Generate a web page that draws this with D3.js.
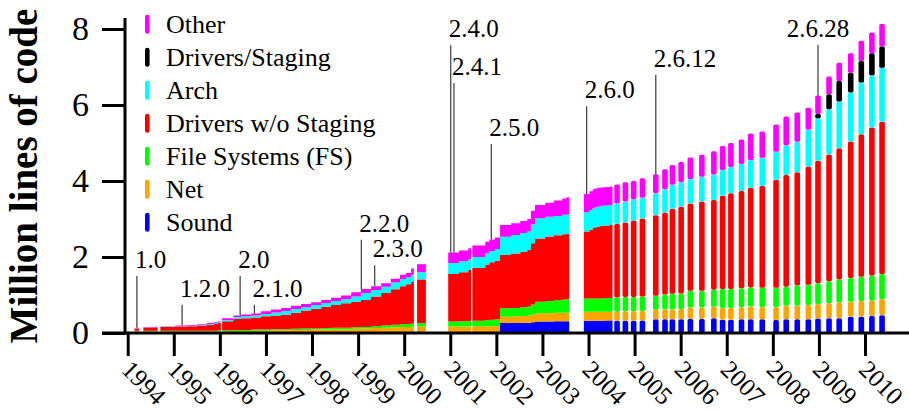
<!DOCTYPE html>
<html>
<head>
<meta charset="utf-8">
<script src="https://cdn.jsdelivr.net/npm/d3@7/dist/d3.min.js"></script>
<style>
  html, body { margin: 0; padding: 0; background: #fff; }
  svg { display: block; }
  svg text { font-family: "Liberation Serif", "Times New Roman", Times, serif; }
</style>
</head>
<body>
<svg id="chart" width="909" height="410" font-family="Liberation Serif, serif"></svg>
<script>
// ---- Linux kernel size by subsystem (million lines of code) ----
const layerKeys   = ["sound", "net", "fs", "drivers", "arch", "staging", "other"];
const layerNames  = ["Sound", "Net", "File Systems (FS)", "Drivers w/o Staging", "Arch", "Drivers/Staging", "Other"];
const layerColors = ["#0000ff", "#ffa500", "#00ff00", "#ff0000", "#00ffff", "#000000", "#ff00ff"];

// Release line each sample belongs to; consecutive samples of one line form a block.
const sampleSeries = [
  "1.0",
  "1.1", "1.1",
  "1.2/1.3", "1.2/1.3", "1.2/1.3", "1.2/1.3", "1.2/1.3", "1.2/1.3", "1.2/1.3",
  "2.0-2.3", "2.0-2.3", "2.0-2.3", "2.0-2.3", "2.0-2.3", "2.0-2.3", "2.0-2.3",
  "2.0-2.3", "2.0-2.3", "2.0-2.3", "2.0-2.3", "2.0-2.3", "2.0-2.3", "2.0-2.3",
  "2.0-2.3", "2.0-2.3", "2.0-2.3", "2.0-2.3", "2.0-2.3", "2.0-2.3", "2.0-2.3",
  "2.2.x", "2.2.x",
  "2.4 early", "2.4 early", "2.4 early",
  "2.4/2.5", "2.4/2.5", "2.4/2.5", "2.4/2.5", "2.4/2.5", "2.4/2.5", "2.4/2.5",
  "2.4/2.5", "2.4/2.5", "2.4/2.5", "2.4/2.5", "2.4/2.5", "2.4/2.5", "2.4/2.5",
  "2.6.0-7", "2.6.0-7", "2.6.0-7", "2.6.0-7", "2.6.0-7", "2.6.0-7", "2.6.0-7", "2.6.0-7",
  "2.6.8", "2.6.9", "2.6.10", "2.6.11", "2.6.12", "2.6.13", "2.6.14", "2.6.15",
  "2.6.16", "2.6.17", "2.6.18", "2.6.19", "2.6.20", "2.6.21", "2.6.22", "2.6.23",
  "2.6.24", "2.6.25", "2.6.26", "2.6.27", "2.6.28", "2.6.29", "2.6.30", "2.6.31",
  "2.6.32", "2.6.33", "2.6.34"
];
const sampleDates = [
  1994.20,
  1994.40, 1994.59,
  1994.77, 1995.03, 1995.29, 1995.50, 1995.72, 1995.87, 1995.96,
  1996.11, 1996.29, 1996.46, 1996.68, 1996.89, 1997.11, 1997.33,
  1997.54, 1997.76, 1997.98, 1998.20, 1998.41, 1998.63, 1998.85,
  1999.06, 1999.28, 1999.50, 1999.71, 1999.91, 2000.04, 2000.15,
  2000.34, 2000.41,
  2001.016, 2001.19, 2001.39,
  2001.54, 2001.76, 2001.85, 2001.97, 2002.08, 2002.32, 2002.52,
  2002.67, 2002.75, 2002.84, 2003.06, 2003.25, 2003.43, 2003.52,
  2003.96, 2004.02, 2004.09, 2004.13, 2004.19, 2004.26, 2004.36, 2004.46,
  2004.62, 2004.80, 2004.98, 2005.17, 2005.46, 2005.66, 2005.82, 2006.01,
  2006.21, 2006.46, 2006.72, 2006.91, 2007.09, 2007.32, 2007.52, 2007.77,
  2008.07, 2008.29, 2008.53, 2008.77, 2008.98, 2009.22, 2009.44, 2009.69,
  2009.92, 2010.15, 2010.37
];
const sound = [
  0,
  0, 0,
  0, 0, 0, 0, 0, 0, 0,
  0, 0, 0, 0, 0, 0, 0,
  0, 0, 0, 0, 0, 0, 0,
  0, 0, 0, 0, 0, 0, 0,
  0, 0,
  0, 0, 0,
  0, 0, 0, 0, 0.26, 0.26, 0.27,
  0.27, 0.28, 0.30, 0.30, 0.31, 0.31, 0.31,
  0.32, 0.32, 0.32, 0.32, 0.32, 0.32, 0.33, 0.33,
  0.32, 0.32, 0.32, 0.33, 0.36, 0.36, 0.36, 0.36,
  0.37, 0.37, 0.39, 0.35, 0.35, 0.36, 0.36, 0.36,
  0.34, 0.36, 0.36, 0.36, 0.38, 0.39, 0.39, 0.43,
  0.43, 0.45, 0.47
];
const net = [
  0.04,
  0.04, 0.04,
  0.04, 0.04, 0.04, 0.04, 0.04, 0.04, 0.04,
  0.04, 0.05, 0.05, 0.06, 0.06, 0.07, 0.07,
  0.08, 0.08, 0.09, 0.09, 0.10, 0.10, 0.11,
  0.12, 0.13, 0.14, 0.15, 0.16, 0.16, 0.17,
  0.17, 0.17,
  0.17, 0.17, 0.17,
  0.18, 0.18, 0.18, 0.18, 0.17, 0.18, 0.18,
  0.19, 0.20, 0.22, 0.22, 0.22, 0.22, 0.22,
  0.24, 0.24, 0.24, 0.24, 0.24, 0.24, 0.23, 0.23,
  0.24, 0.25, 0.25, 0.25, 0.25, 0.26, 0.26, 0.27,
  0.30, 0.30, 0.30, 0.31, 0.31, 0.32, 0.34, 0.32,
  0.34, 0.36, 0.36, 0.38, 0.38, 0.39, 0.41, 0.39,
  0.41, 0.40, 0.42
];
const fs = [
  0.02,
  0.02, 0.02,
  0.02, 0.02, 0.02, 0.02, 0.02, 0.02, 0.03,
  0.03, 0.03, 0.03, 0.03, 0.03, 0.03, 0.03,
  0.03, 0.04, 0.03, 0.04, 0.04, 0.04, 0.04,
  0.04, 0.05, 0.06, 0.07, 0.07, 0.08, 0.08,
  0.09, 0.09,
  0.13, 0.14, 0.14,
  0.14, 0.16, 0.17, 0.18, 0.22, 0.22, 0.23,
  0.24, 0.27, 0.30, 0.32, 0.33, 0.35, 0.36,
  0.35, 0.35, 0.35, 0.35, 0.35, 0.35, 0.36, 0.36,
  0.38, 0.38, 0.38, 0.38, 0.37, 0.39, 0.41, 0.41,
  0.44, 0.44, 0.45, 0.50, 0.50, 0.50, 0.50, 0.51,
  0.51, 0.50, 0.53, 0.53, 0.55, 0.58, 0.61, 0.63,
  0.64, 0.66, 0.66
];
const drivers = [
  0.06,
  0.08, 0.09,
  0.10, 0.11, 0.12, 0.14, 0.16, 0.18, 0.19,
  0.24, 0.29, 0.31, 0.32, 0.35, 0.36, 0.38,
  0.42, 0.47, 0.52, 0.56, 0.60, 0.64, 0.67,
  0.71, 0.78, 0.85, 0.93, 1.00, 1.04, 1.10,
  1.15, 1.15,
  1.25, 1.29, 1.35,
  1.40, 1.46, 1.51, 1.54, 1.40, 1.43, 1.46,
  1.49, 1.61, 1.67, 1.70, 1.71, 1.72, 1.72,
  1.76, 1.81, 1.85, 1.87, 1.89, 1.91, 1.91, 1.92,
  1.93, 1.96, 2.01, 2.05, 2.12, 2.16, 2.24, 2.28,
  2.30, 2.35, 2.36, 2.45, 2.52, 2.56, 2.62, 2.68,
  2.84, 2.94, 2.98, 3.11, 3.22, 3.34, 3.45, 3.59,
  3.75, 3.90, 4.01
];
const arch = [
  0.005,
  0.005, 0.005,
  0.01, 0.01, 0.01, 0.01, 0.02, 0.02, 0.02,
  0.03, 0.05, 0.05, 0.05, 0.06, 0.08, 0.10,
  0.10, 0.09, 0.10, 0.10, 0.10, 0.11, 0.14,
  0.18, 0.17, 0.17, 0.18, 0.19, 0.19, 0.18,
  0.19, 0.19,
  0.29, 0.29, 0.28,
  0.28, 0.30, 0.30, 0.31, 0.48, 0.49, 0.49,
  0.49, 0.50, 0.53, 0.52, 0.51, 0.51, 0.51,
  0.51, 0.52, 0.53, 0.53, 0.53, 0.53, 0.53, 0.53,
  0.54, 0.55, 0.56, 0.55, 0.58, 0.61, 0.63, 0.65,
  0.64, 0.65, 0.67, 0.68, 0.69, 0.71, 0.73, 0.74,
  0.74, 0.78, 0.80, 0.97, 1.12, 1.19, 1.23, 1.29,
  1.36, 1.37, 1.42
];
const staging = [
  0,
  0, 0,
  0, 0, 0, 0, 0, 0, 0,
  0, 0, 0, 0, 0, 0, 0,
  0, 0, 0, 0, 0, 0, 0,
  0, 0, 0, 0, 0, 0, 0,
  0, 0,
  0, 0, 0,
  0, 0, 0, 0, 0, 0, 0,
  0, 0, 0, 0, 0, 0, 0,
  0, 0, 0, 0, 0, 0, 0, 0,
  0, 0, 0, 0, 0, 0, 0, 0,
  0, 0, 0, 0, 0, 0, 0, 0,
  0, 0, 0, 0, 0.11, 0.39, 0.54, 0.52,
  0.57, 0.58, 0.56
];
const other = [
  0.01,
  0.01, 0.01,
  0.01, 0.02, 0.02, 0.02, 0.02, 0.02, 0.02,
  0.05, 0.04, 0.05, 0.05, 0.07, 0.08, 0.08,
  0.09, 0.08, 0.07, 0.08, 0.09, 0.10, 0.11,
  0.11, 0.10, 0.09, 0.10, 0.11, 0.11, 0.17,
  0.21, 0.21,
  0.28, 0.28, 0.29,
  0.30, 0.30, 0.30, 0.30, 0.31, 0.31, 0.32,
  0.32, 0.36, 0.35, 0.37, 0.41, 0.43, 0.45,
  0.48, 0.49, 0.49, 0.49, 0.49, 0.48, 0.48, 0.48,
  0.50, 0.51, 0.48, 0.51, 0.50, 0.53, 0.52, 0.53,
  0.57, 0.58, 0.61, 0.63, 0.63, 0.64, 0.70, 0.69,
  0.72, 0.76, 0.77, 0.58, 0.49, 0.47, 0.48, 0.51,
  0.53, 0.55, 0.59
];

// Annotated releases
const versionNames = ["1.0", "1.2.0", "2.0", "2.1.0", "2.2.0", "2.3.0", "2.4.0", "2.4.1", "2.5.0", "2.6.0", "2.6.12", "2.6.28"];
const versionDates = [1994.20, 1995.18, 1996.44, 1996.75, 1999.07, 1999.36, 2001.01, 2001.08, 2001.89, 2003.96, 2005.46, 2008.98];

const yearTicks = d3.range(1994, 2011);
const valueTicks = [0, 2, 4, 6, 8];

// ---- layout ----
const SERIF = "'Liberation Serif', 'Times New Roman', Times, serif";
const svg = d3.select("#chart");
const x = d3.scaleLinear().domain([1994, 2010]).range([127.7, 865]);
const y = d3.scaleLinear().domain([0, 8]).range([333, 29]);
const halfBar = 2.8;
// label baselines (px) for the release annotations
const labelBaseline = [268, 296.7, 268, 296.7, 231.7, 257.3, 37.3, 75, 136, 98.3, 66.7, 36.7];
const labelAnchor   = ["start", "start", "start", "start", "start", "start", "start", "start", "start", "start", "start", "middle"];

const samples = sampleDates.map((d, i) => ({
  date: d, series: sampleSeries[i],
  sound: sound[i], net: net[i], fs: fs[i], drivers: drivers[i],
  arch: arch[i], staging: staging[i], other: other[i]
}));
const stacked = d3.stack().keys(layerKeys)(samples);
samples.forEach((s, i) => { s.total = stacked[stacked.length - 1][i][1]; });

// consecutive samples of the same release line form one block
const blocks = [];
samples.forEach((s, i) => {
  if (i === 0 || s.series !== samples[i - 1].series) blocks.push([]);
  blocks[blocks.length - 1].push(i);
});

const gBars = svg.append("g");
blocks.forEach(block => {
  if (block.length === 1) {
    const i = block[0];
    const cx = x(samples[i].date);
    layerKeys.forEach((k, li) => {
      const [lo, hi] = stacked[li][i];
      if (hi - lo <= 0) return;
      gBars.append("rect")
        .attr("x", cx - halfBar).attr("width", halfBar * 2)
        .attr("y", y(hi)).attr("height", y(lo) - y(hi))
        .attr("rx", 1.6).attr("ry", 1.6)
        .attr("fill", layerColors[li]);
    });
  } else {
    layerKeys.forEach((k, li) => {
      const pts = block.map((i, j) => ({
        x: j === 0 ? x(samples[i].date) - halfBar : x(samples[i].date),
        lo: stacked[li][i][0], hi: stacked[li][i][1]
      }));
      const last = block[block.length - 1];
      pts.push({ x: x(samples[last].date) + halfBar, lo: stacked[li][last][0], hi: stacked[li][last][1] });
      if (pts.every(p => p.hi - p.lo <= 0)) return;
      const area = d3.area().curve(d3.curveStepAfter)
        .x(p => p.x).y0(p => y(p.lo)).y1(p => y(p.hi));
      gBars.append("path").attr("d", area(pts)).attr("fill", layerColors[li]);
    });
  }
});

// height of the stack drawn at a given date
function stackTopAt(date) {
  const px = x(date);
  let best = null, bestDist = Infinity;
  blocks.forEach(block => {
    block.forEach((i, j) => {
      const x0 = j === 0 ? x(samples[i].date) - halfBar : x(samples[i].date);
      const x1 = j === block.length - 1 ? x(samples[i].date) + halfBar : x(samples[block[j + 1]].date);
      const d = px < x0 ? x0 - px : (px > x1 ? px - x1 : 0);
      if (d < bestDist) { bestDist = d; best = samples[i]; }
    });
  });
  return best.total;
}

// ---- release annotations ----
const gAnn = svg.append("g");
versionNames.forEach((name, i) => {
  const lx = x(versionDates[i]);
  gAnn.append("line")
    .attr("x1", lx).attr("x2", lx)
    .attr("y1", labelBaseline[i] + 8).attr("y2", y(stackTopAt(versionDates[i])))
    .attr("stroke", "#3a3a3a").attr("stroke-width", 1.2);
  gAnn.append("text")
    .attr("x", labelAnchor[i] === "middle" ? lx : lx - 2)
    .attr("y", labelBaseline[i])
    .attr("text-anchor", labelAnchor[i])
    .style("font-family", SERIF).style("font-size", "25px")
    .attr("fill", "#000")
    .text(name);
});

// ---- axes ----
const yAxis = d3.axisLeft(y).tickValues(valueTicks).tickSize(23).tickPadding(13).tickFormat(d3.format("d"));
const gy = svg.append("g").attr("transform", "translate(125,0)").call(yAxis);
gy.attr("font-family", null).attr("font-size", null);
gy.select(".domain").remove();
gy.selectAll(".tick line").attr("stroke", "#000").attr("stroke-width", 3);
gy.selectAll(".tick text").style("font-family", SERIF).style("font-size", "34px").attr("fill", "#000");

const xAxis = d3.axisBottom(x).tickValues(yearTicks).tickSize(23).tickFormat(d3.format("d"));
const gx = svg.append("g").attr("transform", "translate(0,333)").call(xAxis);
gx.attr("font-family", null).attr("font-size", null);
gx.select(".domain").remove();
gx.selectAll(".tick line").attr("stroke", "#000").attr("stroke-width", 3);
gx.selectAll(".tick text")
  .attr("x", 0).attr("y", 0).attr("dy", 0)
  .attr("transform", "translate(-8,38) rotate(45)")
  .style("text-anchor", "start")
  .style("font-family", SERIF).style("font-size", "25px").attr("fill", "#000");

svg.append("line").attr("x1", 125).attr("x2", 125).attr("y1", 18).attr("y2", 334.5)
  .attr("stroke", "#000").attr("stroke-width", 3);
svg.append("line").attr("x1", 102).attr("x2", 909).attr("y1", 333).attr("y2", 333)
  .attr("stroke", "#000").attr("stroke-width", 3);

svg.append("text")
  .attr("transform", "translate(37,176) rotate(-90)")
  .attr("text-anchor", "middle")
  .style("font-family", SERIF).style("font-size", "39px").style("font-weight", "bold")
  .text("Million lines of code");

// ---- legend (top of stack first) ----
const gLeg = svg.append("g");
const legendOrder = d3.range(layerKeys.length).reverse();
legendOrder.forEach((li, r) => {
  const base = 33.3 + r * 33;
  gLeg.append("rect")
    .attr("x", 145).attr("y", base - 18.5).attr("width", 4.6).attr("height", 19)
    .attr("rx", 2.3).attr("ry", 2.3).attr("fill", layerColors[li]);
  gLeg.append("text").attr("x", 166).attr("y", base)
    .style("font-family", SERIF).style("font-size", "26px")
    .text(layerNames[li]);
});
</script>
</body>
</html>
